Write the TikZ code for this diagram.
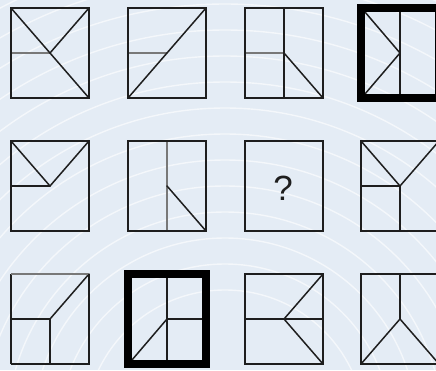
\documentclass[tikz,border=0pt]{standalone}
\usepackage{fontspec}
\setmainfont{Liberation Sans}
\definecolor{bgblue}{RGB}{228,236,245}
\definecolor{ink}{RGB}{30,30,30}
\definecolor{pale}{RGB}{120,120,120}
\begin{document}
\begin{tikzpicture}[x=1pt,y=-1pt,
  ln/.style={draw=ink,line width=1.5pt,line cap=round,line join=round},
  grayln/.style={draw=pale,line width=1.6pt},
  boxthin/.style={draw=ink,line width=1.5pt},
  boxthick/.style={draw=black,line width=7.5pt},
  arc/.style={draw=white,line width=1.4pt,opacity=0.6}]
\useasboundingbox (0,0) rectangle (436,370);
\fill[bgblue] (0,0) rectangle (436,370);
\begin{scope}
\clip (0,0) rectangle (436,370);
\foreach \r in {140,166,...,520} \draw[arc] (225,430) circle[radius=\r];
\end{scope}
% row 1
\begin{scope}[shift={(11,8)}]
  \coordinate (c) at (39,45);
  \draw[grayln] (0,45) -- (c);
  \draw[ln] (0,0) -- (78,90);
  \draw[ln] (78,0) -- (c);
  \draw[boxthin] (0,0) rectangle (78,90);
\end{scope}
\begin{scope}[shift={(128,8)}]
  \coordinate (c) at (39,45);
  \draw[grayln] (0,45) -- (c);
  \draw[ln] (0,90) -- (78,0);
  \draw[boxthin] (0,0) rectangle (78,90);
\end{scope}
\begin{scope}[shift={(245,8)}]
  \coordinate (c) at (39,45);
  \draw[grayln] (0,45) -- (c);
  \draw[ln] (39,0) -- (39,90);
  \draw[ln] (c) -- (78,90);
  \draw[boxthin] (0,0) rectangle (78,90);
\end{scope}
\begin{scope}[shift={(361,8)}]
  \coordinate (c) at (39,45);
  \draw[ln] (39,0) -- (39,90);
  \draw[ln] (3.75,3.75) -- (c) -- (3.75,86.25);
  \draw[boxthick] (0,0) rectangle (78,90);
\end{scope}
% row 2
\begin{scope}[shift={(11,141)}]
  \coordinate (c) at (39,45);
  \draw[ln] (0,0) -- (c) -- (78,0);
  \draw[ln] (0,45) -- (c);
  \draw[boxthin] (0,0) rectangle (78,90);
\end{scope}
\begin{scope}[shift={(128,141)}]
  \coordinate (c) at (39,45);
  \draw[grayln] (39,0) -- (39,90);
  \draw[ln] (c) -- (78,90);
  \draw[boxthin] (0,0) rectangle (78,90);
\end{scope}
\begin{scope}[shift={(245,141)}]
  \draw[boxthin] (0,0) rectangle (78,90);
  \node[text=ink,font=\fontsize{35}{35}\selectfont,inner sep=0pt] (q) at (38,47) {?};
\end{scope}
\begin{scope}[shift={(361,141)}]
  \coordinate (c) at (39,45);
  \draw[ln] (0,0) -- (c) -- (78,0);
  \draw[ln] (0,45) -- (c) -- (39,90);
  \draw[boxthin] (0,0) rectangle (78,90);
\end{scope}
% row 3
\begin{scope}[shift={(11,274)}]
  \coordinate (c) at (39,45);
  \draw[ln] (78,0) -- (c);
  \draw[ln] (0,45) -- (c) -- (39,90);
  \draw[boxthin] (0,90) -- (0,0);
  \draw[grayln] (0,0) -- (78,0);
  \draw[boxthin] (78,0) -- (78,90) -- (0,90);
\end{scope}
\begin{scope}[shift={(128,274)}]
  \coordinate (c) at (39,45);
  \draw[ln] (39,0) -- (39,90);
  \draw[ln] (c) -- (78,45);
  \draw[ln] (3.75,86.25) -- (c);
  \draw[boxthick] (0,0) rectangle (78,90);
\end{scope}
\begin{scope}[shift={(245,274)}]
  \coordinate (c) at (39,45);
  \draw[ln] (0,45) -- (78,45);
  \draw[ln] (78,0) -- (c) -- (78,90);
  \draw[boxthin] (0,0) rectangle (78,90);
\end{scope}
\begin{scope}[shift={(361,274)}]
  \coordinate (c) at (39,45);
  \draw[ln] (39,0) -- (c);
  \draw[ln] (0,90) -- (c) -- (78,90);
  \draw[boxthin] (0,0) rectangle (78,90);
\end{scope}
\end{tikzpicture}
\end{document}
